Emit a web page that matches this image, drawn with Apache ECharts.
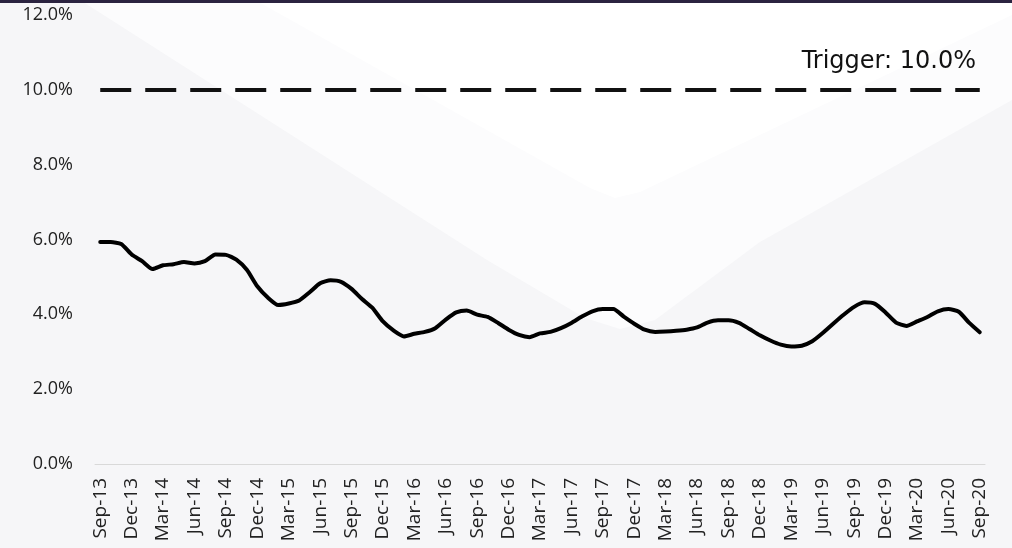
<!DOCTYPE html>
<html>
<head>
<meta charset="utf-8">
<script src="https://cdn.jsdelivr.net/npm/echarts@6/dist/echarts.min.js"></script>
<style>
html,body{margin:0;padding:0;background:#f6f6f8;}
#chart{width:1012px;height:548px;}
</style>
</head>
<body>
<div id="chart"></div>
<script>
const categories = [
'Sep-13','Oct-13','Nov-13','Dec-13','Jan-14','Feb-14','Mar-14','Apr-14','May-14','Jun-14','Jul-14','Aug-14',
'Sep-14','Oct-14','Nov-14','Dec-14','Jan-15','Feb-15','Mar-15','Apr-15','May-15','Jun-15','Jul-15','Aug-15',
'Sep-15','Oct-15','Nov-15','Dec-15','Jan-16','Feb-16','Mar-16','Apr-16','May-16','Jun-16','Jul-16','Aug-16',
'Sep-16','Oct-16','Nov-16','Dec-16','Jan-17','Feb-17','Mar-17','Apr-17','May-17','Jun-17','Jul-17','Aug-17',
'Sep-17','Oct-17','Nov-17','Dec-17','Jan-18','Feb-18','Mar-18','Apr-18','May-18','Jun-18','Jul-18','Aug-18',
'Sep-18','Oct-18','Nov-18','Dec-18','Jan-19','Feb-19','Mar-19','Apr-19','May-19','Jun-19','Jul-19','Aug-19',
'Sep-19','Oct-19','Nov-19','Dec-19','Jan-20','Feb-20','Mar-20','Apr-20','May-20','Jun-20','Jul-20','Aug-20',
'Sep-20'
];
const delinquencyRate = [
5.93,5.93,5.88,5.60,5.42,5.21,5.31,5.34,5.40,5.36,5.42,5.60,
5.59,5.46,5.19,4.75,4.45,4.25,4.29,4.37,4.59,4.83,4.91,4.87,
4.68,4.41,4.17,3.81,3.57,3.41,3.48,3.53,3.63,3.86,4.05,4.10,
3.99,3.93,3.77,3.59,3.45,3.39,3.49,3.53,3.63,3.77,3.94,4.08,
4.14,4.14,3.94,3.75,3.59,3.53,3.54,3.56,3.59,3.65,3.78,3.84,
3.84,3.77,3.61,3.44,3.30,3.19,3.14,3.16,3.28,3.50,3.75,3.99,
4.20,4.32,4.28,4.05,3.78,3.69,3.81,3.93,4.08,4.14,4.07,3.77,
3.52
];
const triggerLevel = 10.0;
const triggerLabel = 'Trigger: 10.0%';
const yTicks = [0, 2, 4, 6, 8, 10, 12];

const chart = echarts.init(document.getElementById('chart'), null, {renderer:'canvas'});
chart.setOption({
  backgroundColor: '#f6f6f8',
  animation: false,
  graphic: [
    { type:'polygon', silent:true, z:-10,
      shape:{ points:[[80,0],[487,260],[585,318],[620,329],[655,320],[760,242],[1012,100],[1012,0]] },
      style:{ fill:'#fcfcfd' } },
    { type:'polygon', silent:true, z:-9,
      shape:{ points:[[255,0],[590,188],[615,198],[640,192],[1012,15],[1012,0]] },
      style:{ fill:'#ffffff' } },
    { type:'rect', silent:true, z:100,
      shape:{ x:0, y:0, width:1012, height:3 },
      style:{ fill:'#2b2340' } },
    { type:'text', silent:true, z:50,
      right: 36, top: 50,
      style:{ text: triggerLabel, fontFamily:'DejaVu Sans', fontSize:24, fill:'#111' } }
  ],
  grid: { left:95, right:27, top:15, bottom:84, containLabel:false },
  xAxis: {
    type:'category',
    data: categories,
    boundaryGap: true,
    axisLine:{ show:true, lineStyle:{ color:'#d9d9d9', width:1 } },
    axisTick:{ show:false },
    axisLabel:{
      interval: 2,
      rotate: 90,
      margin: 14,
      fontFamily: 'Open Sans',
      fontSize: 19,
      color: '#222'
    },
    splitLine:{ show:false }
  },
  yAxis: {
    type:'value',
    min: yTicks[0],
    max: yTicks[yTicks.length-1],
    interval: 2,
    axisLine:{ show:false },
    axisTick:{ show:false },
    splitLine:{ show:false },
    axisLabel:{
      margin: 22,
      fontFamily: 'Open Sans',
      fontSize: 18,
      color: '#222',
      formatter: v => v.toFixed(1) + '%'
    }
  },
  series: [{
    type:'line',
    data: delinquencyRate,
    symbol:'none',
    smooth: 0.2,
    lineStyle:{ color:'#000', width:4, join:'round', cap:'round' },
    markLine: {
      silent:true,
      symbol:['none','none'],
      lineStyle:{ color:'#111', width:4, type:[31,14] },
      label:{ show:false },
      data: [[
        { xAxis: 0, yAxis: triggerLevel },
        { xAxis: categories.length-1, yAxis: triggerLevel }
      ]]
    }
  }]
});
</script>
</body>
</html>
